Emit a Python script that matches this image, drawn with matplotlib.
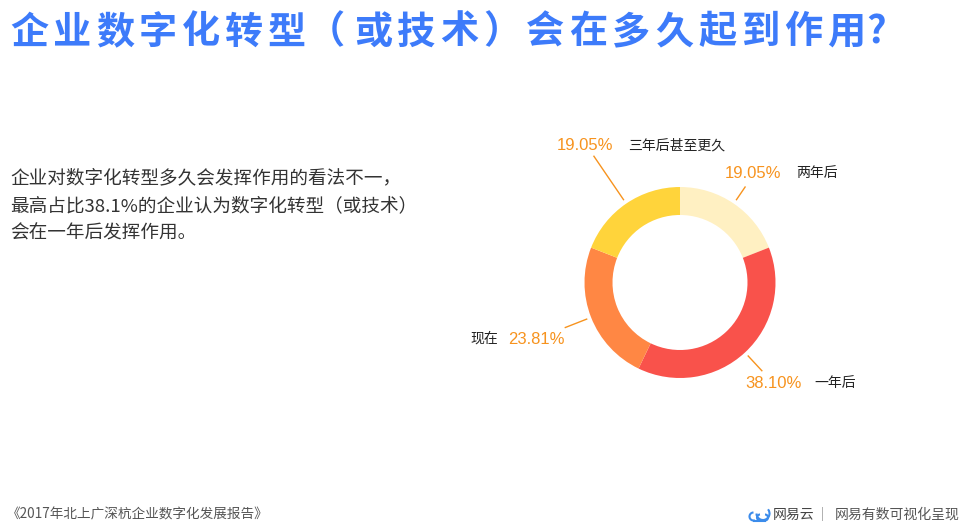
import numpy as np
import matplotlib
matplotlib.use("Agg")
import matplotlib.pyplot as plt
from matplotlib.patches import Arc

plt.rcParams['font.family'] = ['Noto Sans CJK SC', 'DejaVu Sans']

# ---- data ----
categories = ['两年后', '一年后', '现在', '三年后甚至更久']
values = [19.05, 38.10, 23.81, 19.05]
pct_labels = ['19.05%', '38.10%', '23.81%', '19.05%']
colors = ['#FFF0C2', '#F9524B', '#FF8744', '#FFD43B']

title = '企业数字化转型（或技术）会在多久起到作用?'
body = ['企业对数字化转型多久会发挥作用的看法不一，',
        '最高占比38.1%的企业认为数字化转型（或技术）',
        '会在一年后发挥作用。']
source = '《2017年北上广深杭企业数字化发展报告》'

W, H = 963, 530
fig = plt.figure(figsize=(W / 100, H / 100), dpi=100)
fig.patch.set_facecolor('white')

# background axes in pixel coordinates
bg = fig.add_axes([0, 0, 1, 1])
bg.set_xlim(0, W)
bg.set_ylim(H, 0)
bg.axis('off')

# title drawn with letter spacing
title_color = '#3D7BFA'
pitch = 43.0
x = 10.0
for i, ch in enumerate(title):
    xx = x
    if ch in ('?', '（'):
        xx = x - 4
    bg.text(xx, 32, ch, fontsize=27.5, color=title_color, fontweight='semibold',
            va='center', ha='left')
    x += pitch

for i, line in enumerate(body):
    bg.text(10, 178 + 28 * i, line, fontsize=13.4, color='#333333',
            va='center', ha='left')
bg.text(7, 514, source, fontsize=9.8, color='#555555', va='center', ha='left')
bg.text(773, 515, '网易云', fontsize=10, color='#444444', va='center', ha='left')
bg.text(821, 514, '|', fontsize=9, color='#999999', va='center', ha='left')
bg.text(835, 515, '网易有数可视化呈现', fontsize=10, color='#555555', va='center', ha='left')
# cloud logo
logo_c = '#3C8CEB'
bg.add_patch(Arc((763, 513.5), 13, 13, theta1=-40, theta2=180, color=logo_c, lw=1.5))
bg.add_patch(Arc((753.5, 516.5), 8, 8, theta1=70, theta2=270, color=logo_c, lw=1.5))
bg.plot([753.5, 765], [520.5, 520.5], color=logo_c, lw=1.5)
bg.add_patch(Arc((765, 517.5), 6, 6, theta1=-90, theta2=90, color=logo_c, lw=1.5))
bg.add_patch(Arc((760, 517.5), 6, 6, theta1=90, theta2=270, color=logo_c, lw=1.5))

# pie axes
cx, cy, R = 680, 282.5, 95.5
ax = fig.add_axes([(cx - R) / W, (H - cy - R) / H, 2 * R / W, 2 * R / H])
wedges, _ = ax.pie(values, colors=colors, startangle=90, counterclock=False,
                   radius=1.0, wedgeprops=dict(width=28 / R, edgecolor='none'))
ax.set_xlim(-1, 1)
ax.set_ylim(-1, 1)
ax.set_aspect('equal')
ax.axis('off')

# label layout (pixel positions)
line_end_r = [1.21, 1.26, 1.29, 1.60]
pct_pos = [(725, 173), (745, 383), (508, 339), (557, 145)]
name_pos = [(796, 173), (814, 383), (470, 339), (628, 145)]
orange = '#F7931E'

for w, r_end, pp, npos, pl, cat in zip(wedges, line_end_r, pct_pos, name_pos,
                                         pct_labels, categories):
    ang = np.deg2rad((w.theta1 + w.theta2) / 2)
    x0, y0 = 1.05 * np.cos(ang), 1.05 * np.sin(ang)
    x1, y1 = r_end * np.cos(ang), r_end * np.sin(ang)
    bg.plot([cx + x0 * R, cx + x1 * R], [cy - y0 * R, cy - y1 * R],
            color=orange, lw=1.0)
    bg.text(pp[0], pp[1], pl, fontsize=12, color=orange, va='center', ha='left',
            family=['Liberation Sans', 'DejaVu Sans'])
    bg.text(npos[0], npos[1], cat, fontsize=10, color='#222222', va='center', ha='left')

fig.savefig('out.png', dpi=100, facecolor='white')
